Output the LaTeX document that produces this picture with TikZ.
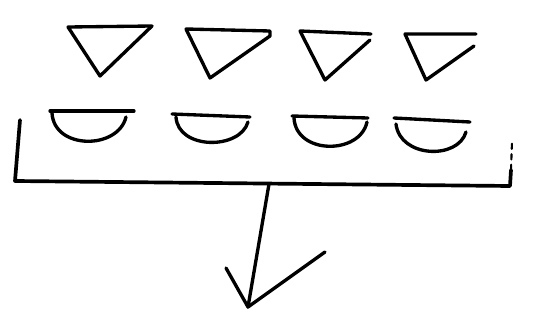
\documentclass[tikz,border=0pt]{standalone}

\tikzset{
  pen/.style={draw, line width=1.9pt, line cap=round, line join=round},
  wedge/.style={pen},
  bowl/.style={pen},
  bracket/.style={pen, line width=2.1pt},
}

\begin{document}
\begin{tikzpicture}[x=0.02cm, y=-0.02cm]
  \useasboundingbox (0,0) rectangle (539,328);

  % Wedges (top row)
  \draw[wedge] (68,27) -- (152,26) -- (100,76) -- cycle;
  \draw[wedge] (186,29) -- (270,31) -- (270,36) -- (210,78) -- cycle;
  \draw[wedge] (370,40) -- (325,80) -- (300,31) -- (371,34);
  \draw[wedge] (474,46) -- (426,80) -- (405,34) -- (476,34);

  % Bowls (second row)
  \draw[bowl] (50,111) -- (134,111);
  \draw[bowl] (52,113) .. controls (54,150) and (118,150) .. (126,117);
  \draw[bowl] (172,114) -- (250,117);
  \draw[bowl] (176,117) .. controls (178,150) and (240,150) .. (248,122);
  \draw[bowl] (292,116) -- (368,118);
  \draw[bowl] (294,118) .. controls (296,155) and (360,155) .. (367,122);
  \draw[bowl] (394,118) -- (470,122);
  \draw[bowl] (396,124) .. controls (400,158) and (458,160) .. (466,132);

  % Bracket under both rows
  \draw[bracket] (20,120) -- (15,181) -- (510,186) -- (511,170);
  \draw[pen, line width=1.2pt, dashed] (511,170) -- (512,142);

  % Arrow down
  \coordinate (bar) at (269,184);
  \coordinate (tip) at (248,307);
  \draw[pen] (bar) -- (tip);
  \draw[pen] (226,268) -- (tip) -- (325,252);
\end{tikzpicture}
\end{document}
